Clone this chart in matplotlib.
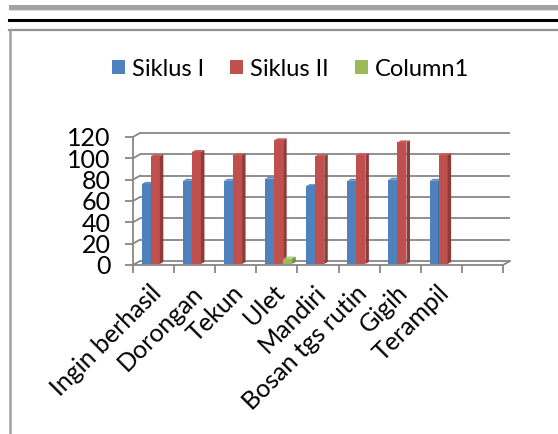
import numpy as np
import matplotlib
matplotlib.use("Agg")
import matplotlib.pyplot as plt
from matplotlib.patches import Polygon, Rectangle
from matplotlib.lines import Line2D

# ---------------- data ----------------
categories = ["Ingin berhasil", "Dorongan", "Tekun", "Ulet", "Mandiri",
              "Bosan tgs rutin", "Gigih", "Terampil", ""]
siklus1 = [75, 78, 78, 80, 73, 78, 79, 78, np.nan]
siklus2 = [101, 105, 102, 116, 101, 102, 114, 102, np.nan]
column1 = [np.nan, np.nan, np.nan, 5, np.nan, np.nan, np.nan, np.nan, np.nan]
series_names = ["Siklus I", "Siklus II", "Column1"]
yticks = [0, 20, 40, 60, 80, 100, 120]

# ---------------- style ----------------
plt.rcParams['font.family'] = ['Lato', 'DejaVu Sans']
colors = ["#4F81BD", "#C0504D", "#9BBB59"]
sides = ["#3A6293", "#8E3B39", "#718B41"]
tops = ["#5A8BC6", "#C95C59", "#A5C566"]
grid_c = "#868686"

W, H = 558, 434
fig = plt.figure(figsize=(W / 100, H / 100), dpi=100)


def fx(px):
    return px / W


def fy(py):
    return 1 - py / H


# page decorations (document lines + chart frame)
fig.add_artist(Rectangle((fx(9), fy(9.5)), 1, 4.5 / H, transform=fig.transFigure,
                         color="#A2A2A2", lw=0))
fig.add_artist(Line2D([fx(9), 1], [fy(10), fy(10)], transform=fig.transFigure,
                      color="#DDDDDD", lw=0.8))
fig.add_artist(Line2D([fx(9), 1], [fy(20), fy(20)], transform=fig.transFigure,
                      color="black", lw=2.2))
fig.add_artist(Line2D([fx(9), 1], [fy(29.5), fy(29.5)], transform=fig.transFigure,
                      color="#929292", lw=1.6))
fig.add_artist(Line2D([fx(9.5), fx(9.5)], [fy(29.5), 0], transform=fig.transFigure,
                      color="#A0A0A0", lw=1.8))

# ---------------- axes ----------------
ax = fig.add_axes([fx(133), fy(265), fx(503) - fx(133), fy(137) - fy(265)])
n = len(categories)
ax.set_xlim(-0.5, n - 0.5)
ax.set_ylim(0, 120)
ax.patch.set_visible(False)

px_x = (fx(503) - fx(133)) * W / n       # pixels per category
px_y = (fy(137) - fy(265)) * H / 120     # pixels per value unit
DX = 7.0 / px_x
DY = 4.0 / px_y
lw = 1.8 * 0.72

# back wall gridlines + side connectors
for v in yticks:
    ax.plot([-0.5 + DX, n - 0.5 + DX], [v + DY, v + DY], color=grid_c, lw=lw,
            clip_on=False, zorder=1, solid_capstyle='butt')
    ax.plot([-0.5, -0.5 + DX], [v, v + DY], color=grid_c, lw=lw, clip_on=False, zorder=1)
# right floor edge
ax.plot([n - 0.5, n - 0.5 + DX], [0, DY], color=grid_c, lw=lw, clip_on=False, zorder=1)

for s in ["top", "right"]:
    ax.spines[s].set_visible(False)
for s in ["left", "bottom"]:
    ax.spines[s].set_color(grid_c)
    ax.spines[s].set_linewidth(lw)
    ax.spines[s].set_zorder(1.5)

ax.set_yticks(yticks)
ax.set_yticklabels([str(v) for v in yticks])
ax.tick_params(axis='y', direction='out', length=6, width=lw, color=grid_c,
               labelsize=18, pad=10, labelcolor="black")
ax.set_xticks(np.arange(-0.5, n, 1.0))
ax.set_xticklabels([])
ax.tick_params(axis='x', direction='out', length=6, width=lw, color=grid_c)

# ---------------- 3D-looking bars ----------------
w = 0.22
f, b = 0.25, 0.75
x = np.arange(n)
handles = []
for i, (vals, name) in enumerate(zip([siklus1, siklus2, column1], series_names)):
    vals = np.asarray(vals, dtype=float)
    xc = x + (i - 1) * w
    cont = ax.bar(xc + f * DX, vals, width=w, bottom=f * DY, color=colors[i],
                  lw=0, zorder=3 + i, label=name, clip_on=False)
    handles.append(cont)
    for xi, v in zip(xc, vals):
        if np.isnan(v) or v <= 0:
            continue
        x1 = xi + w / 2
        x0 = xi - w / 2
        side = Polygon([(x1 + f * DX, f * DY), (x1 + b * DX, b * DY),
                        (x1 + b * DX, v + b * DY), (x1 + f * DX, v + f * DY)],
                       closed=True, color=sides[i], lw=0, zorder=3 + i, clip_on=False)
        top = Polygon([(x0 + f * DX, v + f * DY), (x1 + f * DX, v + f * DY),
                       (x1 + b * DX, v + b * DY), (x0 + b * DX, v + b * DY)],
                      closed=True, color=tops[i], lw=0, zorder=3 + i, clip_on=False)
        ax.add_patch(side)
        ax.add_patch(top)

# category labels
for xi, lab in zip(x, categories):
    if not lab:
        continue
    ax.annotate(lab, xy=(xi, 0), xycoords='data', xytext=(-4, -16),
                textcoords='offset pixels', rotation=45, rotation_mode='anchor',
                ha='right', va='top', fontsize=18, color='black')

# legend
fig.legend(handles=handles, labels=series_names, loc='center',
           bbox_to_anchor=(fx(290.5), fy(69)), ncol=3, frameon=False,
           fontsize=17, handlelength=0.55, handleheight=0.55,
           handletextpad=0.3, columnspacing=1.1)

fig.savefig("out.png", dpi=100)
